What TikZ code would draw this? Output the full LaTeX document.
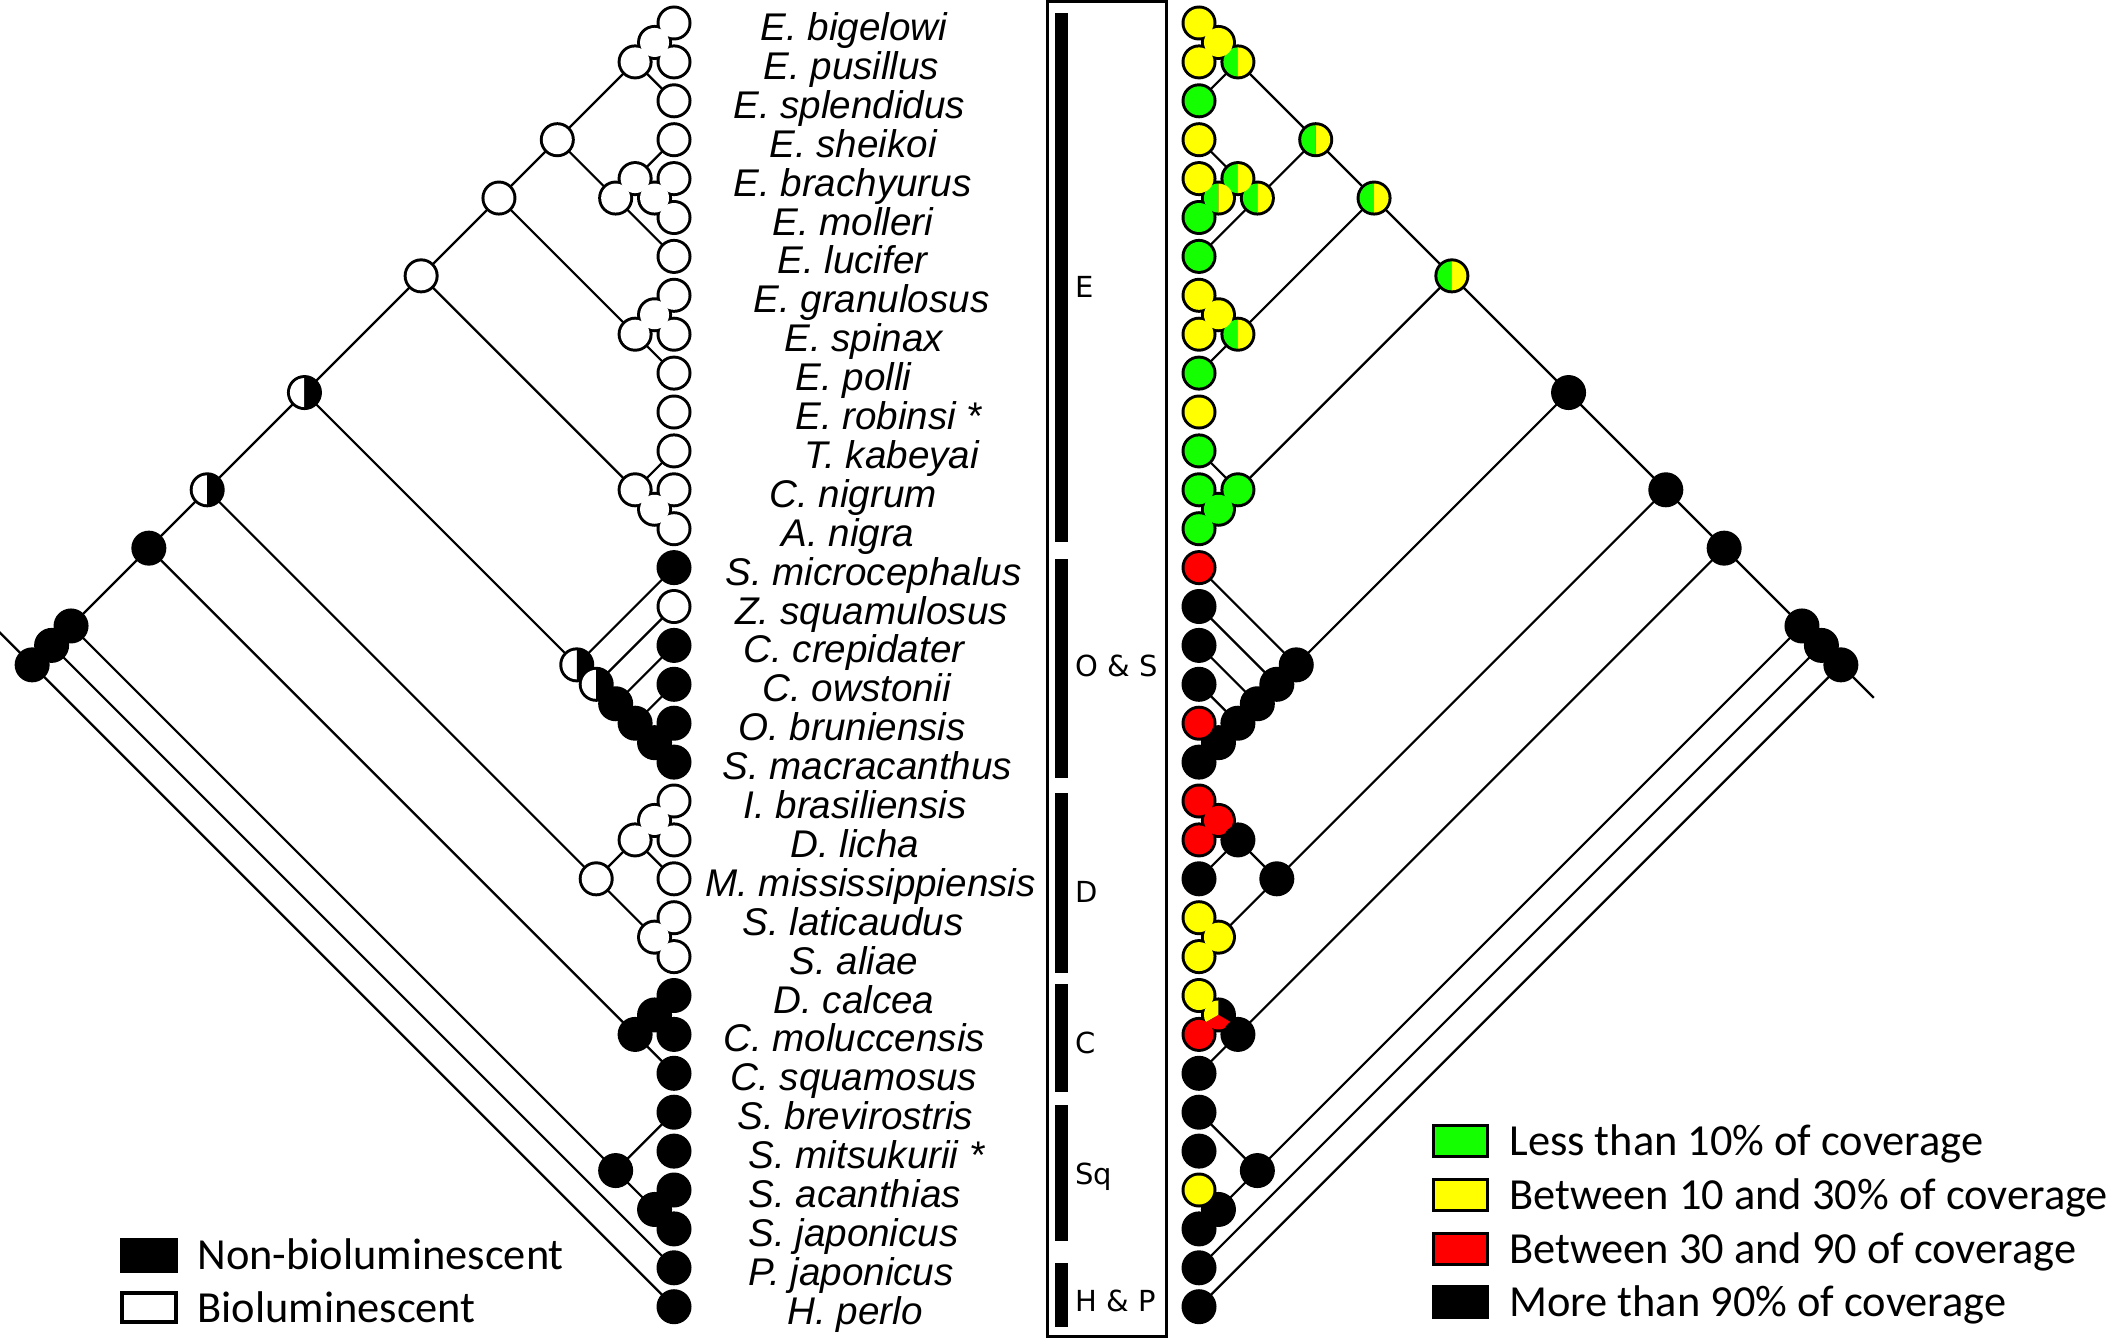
\documentclass[tikz,border=0pt]{standalone}
\usepackage{fontspec}
\setmainfont{Liberation Sans}
\newfontfamily\cladefont{DejaVu Sans}
\newfontfamily\keyfont{Carlito}
\usetikzlibrary{calc}
\definecolor{lowcov}{RGB}{20,255,0}
\definecolor{midcov}{RGB}{255,255,0}
\definecolor{highcov}{RGB}{255,0,0}
\tikzset{
  branch/.style={line width=1.1pt},
  spname/.style={anchor=base west, inner sep=0pt, font=\itshape\fontsize{19.3}{22}\selectfont},
  grouplabel/.style={anchor=west, inner sep=0pt, font=\cladefont\fontsize{14.5}{16}\selectfont},
  keytext/.style={anchor=base west, inner sep=0pt, font=\keyfont\fontsize{22.2}{26}\selectfont},
}
% outline disc, inner disc, two halves, pie slice
\newcommand{\rim}[1]{\fill[black] (#1) circle[radius=8.75pt];}
\newcommand{\disc}[2]{\fill[#2] (#1) circle[radius=7.25pt];}
\newcommand{\twotone}[3]{%
  \fill[#2] (#1) ++(90:7.25pt) arc[start angle=90,end angle=270,radius=7.25pt] -- cycle;
  \fill[#3] (#1) ++(-90:7.25pt) arc[start angle=-90,end angle=90,radius=7.25pt] -- cycle;}
\newcommand{\wedgefill}[4]{\fill[#2] (#1) -- ++(#3:7.25pt) arc[start angle=#3,end angle=#4,radius=7.25pt] -- cycle;}

\begin{document}
\begin{tikzpicture}[x=0.5pt,y=-0.5pt]
		%%%%% START %%%%%
		\useasboundingbox (0,0) rectangle (2112,1338);
		
		% leaves and clades, left tree (l) and right tree (r)
		\foreach \i in {0,...,33}{
			\coordinate (l\i-\i) at (674,{23+38.9*\i});
			\coordinate (r\i-\i) at (1199,{23+38.9*\i});
		}
		\foreach \a/\b in {0/1,0/2,3/5,4/5,3/6,0/6,7/8,7/9,0/9,12/13,11/13,0/13,18/19,17/19,16/19,15/19,14/19,0/19,20/21,20/22,23/24,20/24,0/24,25/26,25/27,0/27,30/31,28/31,0/31,0/32,0/33}{
			\coordinate (l\a-\b) at ({674-19.45*(\b-\a)},{23+19.45*(\a+\b)});
			\coordinate (r\a-\b) at ({1199+19.45*(\b-\a)},{23+19.45*(\a+\b)});
		}
		
		% branches
		\foreach \p/\c in {0-33/0-32,0-33/33-33,0-32/0-31,0-32/32-32,0-31/0-27,0-31/28-31,
			28-31/28-28,28-31/30-31,30-31/30-30,30-31/31-31,0-27/0-24,0-27/25-27,
			25-27/25-26,25-27/27-27,25-26/25-25,25-26/26-26,0-24/0-19,0-24/20-24,
			20-24/20-22,20-24/23-24,20-22/20-21,20-22/22-22,20-21/20-20,20-21/21-21,23-24/23-23,23-24/24-24,
			0-19/0-13,0-19/14-19,14-19/14-14,14-19/15-19,15-19/15-15,15-19/16-19,16-19/16-16,16-19/17-19,
			17-19/17-17,17-19/18-19,18-19/18-18,18-19/19-19,0-13/0-9,0-13/11-13,11-13/11-11,11-13/12-13,
			12-13/12-12,12-13/13-13,0-9/0-6,0-9/7-9,7-9/7-8,7-9/9-9,7-8/7-7,7-8/8-8,0-6/0-2,0-6/3-6,
			0-2/0-1,0-2/2-2,0-1/0-0,0-1/1-1,3-6/3-5,3-6/6-6,3-5/3-3,3-5/4-5,4-5/4-4,4-5/5-5}{
			\draw[branch] (l\p) -- (l\c);
			\draw[branch] (r\p) -- (r\c);
		}
		\coordinate (lstem) at ($(l0-33)+(-34,-34)$);
		\coordinate (rstem) at ($(r0-33)+(33,33)$);
		\draw[branch] (l0-33) -- (lstem);
		\draw[branch] (r0-33) -- (rstem);
		
		% outlines first
		\foreach \i in {0,...,33}{\rim{l\i-\i}\rim{r\i-\i}}
		\foreach \n in {0-1,0-2,3-5,4-5,3-6,0-6,7-8,7-9,0-9,12-13,11-13,0-13,18-19,17-19,16-19,15-19,14-19,0-19,20-21,20-22,23-24,20-24,0-24,25-26,25-27,0-27,30-31,28-31,0-31,0-32,0-33}{\rim{l\n}\rim{r\n}}
		
		% left tree: bioluminescence
		\foreach \n in {0-19,0-24,14-19,15-19}{\twotone{l\n}{white}{black}}
		\foreach \n in {16-19,17-19,18-19,25-26,25-27,28-31,30-31,0-27,0-31,0-32,0-33}{\disc{l\n}{black}}
		\foreach \n in {0-13,0-9,0-6,0-2,0-1,3-6,3-5,4-5,7-9,7-8,11-13,12-13,20-24,20-22,20-21,23-24}{\disc{l\n}{white}}
		\foreach \i in {0,...,13,15,20,21,22,23,24}{\disc{l\i-\i}{white}}
		\foreach \i in {14,16,17,18,19,25,26,...,33}{\disc{l\i-\i}{black}}
		
		% right tree: coverage
		\foreach \n in {0-13,0-9,0-6,0-2,3-6,3-5,4-5,7-9}{\twotone{r\n}{lowcov}{midcov}}
		\foreach \n in {0-1,7-8,23-24}{\disc{r\n}{midcov}}
		\foreach \n in {11-13,12-13}{\disc{r\n}{lowcov}}
		\disc{r20-21}{highcov}
		\wedgefill{r25-26}{black}{-30}{90}
		\wedgefill{r25-26}{midcov}{90}{210}
		\wedgefill{r25-26}{highcov}{210}{330}
		\foreach \n in {0-19,14-19,15-19,16-19,17-19,18-19,20-22,20-24,0-24,25-27,0-27,28-31,30-31,0-31,0-32,0-33}{\disc{r\n}{black}}
		\foreach \i/\c in {0/midcov,1/midcov,2/lowcov,3/midcov,4/midcov,5/lowcov,6/lowcov,7/midcov,8/midcov,
			9/lowcov,10/midcov,11/lowcov,12/lowcov,13/lowcov,14/highcov,15/black,16/black,17/black,
			18/highcov,19/black,20/highcov,21/highcov,22/black,23/midcov,24/midcov,25/midcov,26/highcov,
			27/black,28/black,29/black,30/midcov,31/black,32/black,33/black}{\disc{r\i-\i}{\c}}
		
		% species names
		\foreach \i/\lx/\sp in {0/760/E. bigelowi,1/763/E. pusillus,2/733/E. splendidus,3/769/E. sheikoi,
			4/733/E. brachyurus,5/772/E. molleri,6/777/E. lucifer,7/753/E. granulosus,8/784/E. spinax,
			9/795/E. polli,10/795/E. robinsi *,11/804/T. kabeyai,12/769/C. nigrum,13/781/A. nigra,
			14/725/S. microcephalus,15/735/Z. squamulosus,16/743/C. crepidater,17/762/C. owstonii,
			18/738/O. bruniensis,19/722/S. macracanthus,20/743/I. brasiliensis,21/790/D. licha,
			22/705/M. mississippiensis,23/742/S. laticaudus,24/789/S. aliae,25/773/D. calcea,
			26/723/C. moluccensis,27/730/C. squamosus,28/737/S. brevirostris,29/748/S. mitsukurii *,
			30/748/S. acanthias,31/748/S. japonicus,32/748/P. japonicus,33/787/H. perlo}{
			\node[spname] (sp\i) at (\lx,{23+38.9*\i+17.5}) {\sp};
		}
		
		% groups
		\draw[line width=1.5pt] (1047,1.5) rectangle (1166,1336.5);
		\foreach \t/\b/\m/\g/\txt in {13/542/287/E/E,559/778/666/OS/O \& S,793/973/892/D/D,984/1092/1043/C/C,1105/1241/1177/Sq/Sq,1263/1327/1301/HP/H \& P}{
			\fill (1055,\t) rectangle (1068,\b);
			\node[grouplabel] (grp\g) at (1075,\m) {\txt};
		}
		
		% legend, left
		\fill (120,1238) rectangle (178,1273);
		\node[keytext] (keydark) at (197,1269) {Non-bioluminescent};
		\draw[line width=2pt] (122,1293) rectangle (176,1322);
		\node[keytext] (keylight) at (197,1322) {Bioluminescent};
		
		% legend, right
		\foreach \y/\c/\k/\txt in {1141/lowcov/low/Less than 10\% of coverage,1195/midcov/mid/Between 10 and 30\% of coverage,
			1249/highcov/high/Between 30 and 90 of coverage,1302/black/full/More than 90\% of coverage}{
			\filldraw[fill=\c, draw=black, line width=1.5pt] (1433.5,\y-15.5) rectangle (1487.5,\y+15.5);
			\node[keytext] (key\k) at (1509,\y+14) {\txt};
		}
		
		%%%%% END %%%%%
\end{tikzpicture}
\end{document}
